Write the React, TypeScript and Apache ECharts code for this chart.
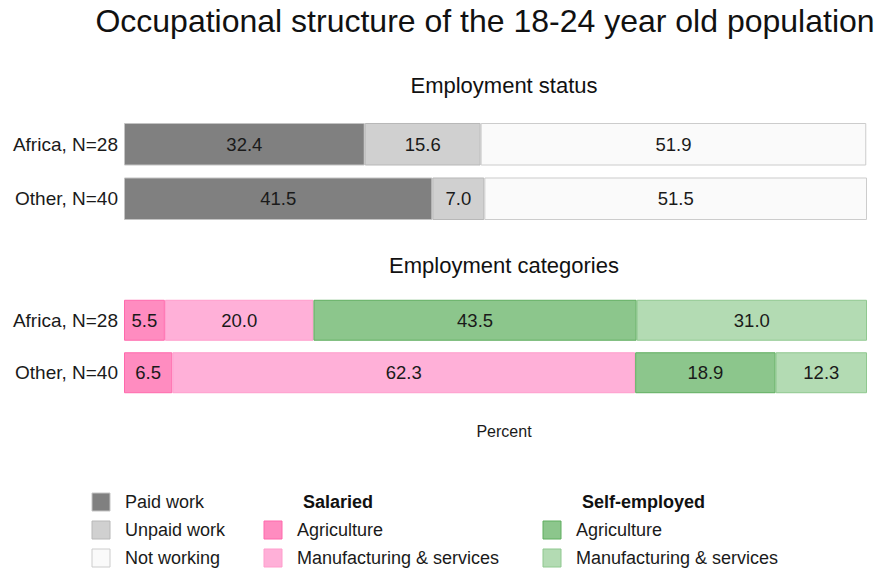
import React, { useEffect, useRef } from "react";
import * as echarts from "echarts";

const regions = ["Africa, N=28", "Other, N=40"];

const statusNames = ["Paid work", "Unpaid work", "Not working"];
const paidWork = [32.4, 41.5];
const unpaidWork = [15.6, 7.0];
const notWorking = [51.9, 51.5];

const categoryNames = [
  "Salaried: Agriculture",
  "Salaried: Manufacturing & services",
  "Self-employed: Agriculture",
  "Self-employed: Manufacturing & services",
];
const salAgri = [5.5, 6.5];
const salManuf = [20.0, 62.3];
const selfAgri = [43.5, 18.9];
const selfManuf = [31.0, 12.3];

const FONT = "Liberation Sans, Arial, sans-serif";

const statusStyles = [
  { color: "#808080", border: "#c4c4c4" },
  { color: "#d0d0d0", border: "#b8b8b8" },
  { color: "#fafafa", border: "#cccccc" },
];
const catStyles = [
  { color: "#ff8cc0", border: "#ff69ac" },
  { color: "#ffb0d8", border: "#ff9dcc" },
  { color: "#8cc68c", border: "#5fae5f" },
  { color: "#b3dbb3", border: "#8fc88f" },
];

export default function App() {
  const ref = useRef<HTMLDivElement>(null);
  useEffect(() => {
    if (!ref.current) return;
    const chart = echarts.init(ref.current, null, { renderer: "svg" });

    const mkSeries = (
      name: string,
      data: number[],
      st: { color: string; border: string },
      idx: number,
      stack: string
    ) => ({
      name,
      type: "bar",
      stack,
      xAxisIndex: idx,
      yAxisIndex: idx,
      data,
      barCategoryGap: "22%",
      itemStyle: { color: st.color, borderColor: st.border, borderWidth: 1 },
      label: {
        show: true,
        position: "inside",
        color: "#1a1a1a",
        fontSize: 18.5,
        fontFamily: FONT,
        formatter: (p: any) => Number(p.value).toFixed(1),
      },
    });

    const statusData = [paidWork, unpaidWork, notWorking];
    const catData = [salAgri, salManuf, selfAgri, selfManuf];

    const legendItem = (x: number, y: number, st: { color: string; border: string }, text: string) => [
      {
        type: "rect",
        shape: { x, y: y - 9, width: 18, height: 18 },
        style: { fill: st.color, stroke: st.border, lineWidth: 1 },
      },
      {
        type: "text",
        x: x + 33,
        y,
        style: { text, fontSize: 18, fontFamily: FONT, fill: "#1a1a1a", textVerticalAlign: "middle" },
      },
    ];

    const yAxisCommon = {
      type: "category",
      data: regions,
      inverse: true,
      axisLine: { show: false },
      axisTick: { show: false },
      axisLabel: { fontSize: 19, fontFamily: FONT, color: "#1a1a1a", margin: 6 },
    };
    const xAxisCommon = {
      type: "value",
      min: 0,
      max: 100,
      show: false,
      splitLine: { show: false },
    };

    chart.setOption({
      animation: false,
      backgroundColor: "#ffffff",
      grid: [
        { left: 124, right: 10, top: 117, height: 109 },
        { left: 124, right: 10, top: 294, height: 105 },
      ],
      xAxis: [
        { ...xAxisCommon, gridIndex: 0 },
        { ...xAxisCommon, gridIndex: 1 },
      ],
      yAxis: [
        { ...yAxisCommon, gridIndex: 0 },
        { ...yAxisCommon, gridIndex: 1 },
      ],
      series: [
        ...statusNames.map((n, i) => mkSeries(n, statusData[i], statusStyles[i], 0, "status")),
        ...categoryNames.map((n, i) => mkSeries(n, catData[i], catStyles[i], 1, "cat")),
      ],
      graphic: [
        {
          type: "text",
          x: 485,
          y: 21,
          style: {
            text: "Occupational structure of the 18-24 year old population",
            fontSize: 32,
            fontFamily: FONT,
            fill: "#111",
            textAlign: "center",
            textVerticalAlign: "middle",
          },
        },
        {
          type: "text",
          x: 504,
          y: 85,
          style: { text: "Employment status", fontSize: 22, fontFamily: FONT, fill: "#111", textAlign: "center", textVerticalAlign: "middle" },
        },
        {
          type: "text",
          x: 504,
          y: 265,
          style: { text: "Employment categories", fontSize: 22, fontFamily: FONT, fill: "#111", textAlign: "center", textVerticalAlign: "middle" },
        },
        {
          type: "text",
          x: 504,
          y: 431,
          style: { text: "Percent", fontSize: 16, fontFamily: FONT, fill: "#1a1a1a", textAlign: "center", textVerticalAlign: "middle" },
        },
        ...legendItem(92, 502, statusStyles[0], "Paid work"),
        ...legendItem(92, 530, statusStyles[1], "Unpaid work"),
        ...legendItem(92, 558, statusStyles[2], "Not working"),
        {
          type: "text",
          x: 303,
          y: 502,
          style: { text: "Salaried", fontSize: 18, fontWeight: "bold", fontFamily: FONT, fill: "#111", textVerticalAlign: "middle" },
        },
        ...legendItem(264, 530, catStyles[0], "Agriculture"),
        ...legendItem(264, 558, catStyles[1], "Manufacturing & services"),
        {
          type: "text",
          x: 582,
          y: 502,
          style: { text: "Self-employed", fontSize: 18, fontWeight: "bold", fontFamily: FONT, fill: "#111", textVerticalAlign: "middle" },
        },
        ...legendItem(543, 530, catStyles[2], "Agriculture"),
        ...legendItem(543, 558, catStyles[3], "Manufacturing & services"),
      ],
    });
    return () => chart.dispose();
  }, []);
  return (
    <div
      ref={ref}
      style={{ position: "absolute", left: 0, top: 0, width: 877, height: 570 }}
    />
  );
}
